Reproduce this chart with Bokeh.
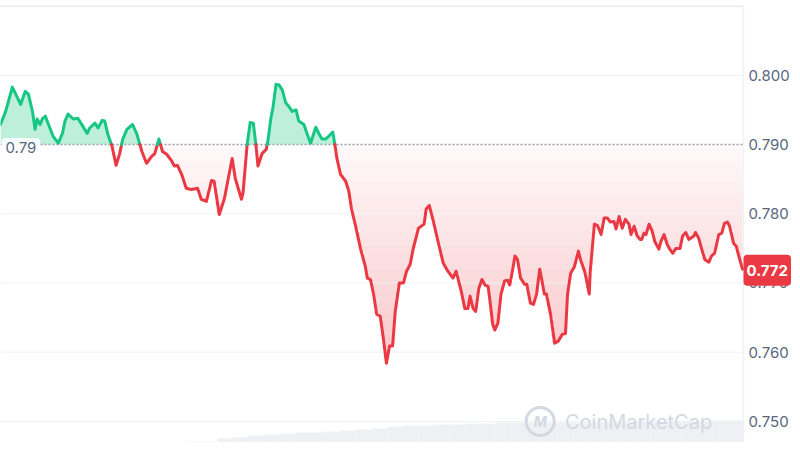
import numpy as np
from bokeh.plotting import figure
from bokeh.models import Range1d, Label
from bokeh.core.properties import value
from bokeh.embed import file_html
from bokeh.resources import INLINE

# ---- data (minutes since start of the 24h window, price in USD) ----
times = [0, 10, 23, 39, 48, 54, 62, 67, 71, 77, 81, 87, 93, 102, 112, 120, 125, 131, 141, 150,
         160, 168, 173, 183, 189, 197, 202, 208, 216, 224, 231, 237, 245, 256, 264, 274, 283, 293, 299, 307,
         314, 322, 332, 337, 343, 351, 360, 370, 382, 389, 399, 409, 414, 424, 434, 443, 449, 455, 467, 470,
         478, 484, 490, 495, 499, 507, 515, 519, 524, 528, 534, 540, 546, 553, 559, 565, 573, 578, 588, 594,
         601, 611, 617, 623, 630, 636, 644, 648, 652, 659, 669, 675, 680, 688, 698, 707, 711, 717, 723, 729,
         736, 742, 748, 754, 760, 765, 773, 781, 787, 794, 800, 810, 821, 825, 831, 839, 848, 858, 867, 877,
         883, 893, 900, 906, 910, 916, 921, 927, 933, 939, 945, 948, 954, 958, 964, 970, 977, 983, 987, 993,
         997, 1002, 1008, 1016, 1020, 1027, 1033, 1039, 1045, 1049, 1054, 1058, 1066, 1074, 1081, 1089, 1095, 1099, 1105, 1112,
         1120, 1124, 1132, 1135, 1141, 1143, 1151, 1157, 1164, 1170, 1176, 1182, 1189, 1193, 1199, 1205, 1211, 1218, 1222, 1228,
         1234, 1240, 1243, 1247, 1251, 1257, 1263, 1268, 1276, 1280, 1286, 1292, 1297, 1303, 1309, 1317, 1322, 1328, 1334, 1344,
         1347, 1353, 1359, 1365, 1373, 1378, 1384, 1392, 1398, 1403, 1409, 1413, 1421, 1426, 1432, 1438]
prices = [0.7929, 0.7948, 0.7983, 0.7958, 0.7977, 0.7973, 0.7948, 0.7922, 0.7937, 0.7929, 0.7937, 0.7941, 0.7929, 0.7912, 0.7902, 0.7916, 0.7934, 0.7944, 0.7937, 0.7938,
          0.7926, 0.7916, 0.7924, 0.7931, 0.7924, 0.7935, 0.7934, 0.7915, 0.7898, 0.7870, 0.7887, 0.7908, 0.7922, 0.7929, 0.7916, 0.7890, 0.7873, 0.7883, 0.7887, 0.7908,
          0.7890, 0.7886, 0.7876, 0.7869, 0.7870, 0.7857, 0.7837, 0.7835, 0.7837, 0.7821, 0.7818, 0.7848, 0.7847, 0.7799, 0.7822, 0.7857, 0.7880, 0.7851, 0.7821, 0.7830,
          0.7900, 0.7932, 0.7931, 0.7900, 0.7869, 0.7887, 0.7893, 0.7909, 0.7938, 0.7953, 0.7987, 0.7986, 0.7979, 0.7960, 0.7955, 0.7948, 0.7950, 0.7934, 0.7929, 0.7916,
          0.7902, 0.7925, 0.7916, 0.7908, 0.7908, 0.7912, 0.7918, 0.7900, 0.7880, 0.7857, 0.7847, 0.7833, 0.7808, 0.7783, 0.7749, 0.7724, 0.7707, 0.7705, 0.7684, 0.7655,
          0.7652, 0.7620, 0.7584, 0.7609, 0.7609, 0.7659, 0.7700, 0.7700, 0.7717, 0.7727, 0.7750, 0.7779, 0.7785, 0.7807, 0.7812, 0.7789, 0.7760, 0.7729, 0.7717, 0.7707,
          0.7717, 0.7688, 0.7663, 0.7663, 0.7681, 0.7663, 0.7659, 0.7692, 0.7705, 0.7697, 0.7695, 0.7678, 0.7640, 0.7632, 0.7642, 0.7684, 0.7703, 0.7704, 0.7697, 0.7721,
          0.7739, 0.7734, 0.7707, 0.7698, 0.7698, 0.7671, 0.7669, 0.7684, 0.7720, 0.7705, 0.7684, 0.7684, 0.7655, 0.7613, 0.7616, 0.7626, 0.7627, 0.7684, 0.7714, 0.7723,
          0.7746, 0.7734, 0.7717, 0.7707, 0.7684, 0.7717, 0.7785, 0.7783, 0.7770, 0.7794, 0.7794, 0.7788, 0.7789, 0.7778, 0.7796, 0.7779, 0.7792, 0.7785, 0.7770, 0.7782,
          0.7768, 0.7763, 0.7763, 0.7772, 0.7770, 0.7785, 0.7775, 0.7760, 0.7749, 0.7760, 0.7770, 0.7756, 0.7749, 0.7743, 0.7750, 0.7750, 0.7768, 0.7773, 0.7763, 0.7768,
          0.7773, 0.7765, 0.7749, 0.7734, 0.7730, 0.7739, 0.7743, 0.7770, 0.7772, 0.7786, 0.7788, 0.7782, 0.7757, 0.7753, 0.7736, 0.7720]
open_price = 0.79
last_price = 0.772
window_start, window_end = 0, 1440          # minutes covered by the chart
axis_ticks = [0.75, 0.76, 0.77, 0.78, 0.79, 0.80]
axis_labels = ["0.750", "0.760", "0.770", "0.780", "0.790", "0.800"]
grid_ticks = [0.75, 0.76, 0.77, 0.78, 0.80]
top_line = 0.81
# volume (relative units) per 30-minute bucket
vol_times = list(range(15, 1440, 30))
volumes = [0, 0, 0, 0, 0, 0, 0, 0, 0, 0, 0, 0, 1, 1, 4, 5, 7, 8, 9, 10, 10, 11, 12, 13,
           14, 16, 17, 17, 18, 18, 19, 19, 20, 20, 20, 20, 20, 20, 20, 20, 20, 21, 21, 21, 21, 21, 22, 22]

GREEN = "#16c784"
RED = "#ea3943"
GREY_TXT = "#58667e"
GRID = "#eff2f5"
FONT = "Inter"

# ---- insert baseline crossings so that colours / fills split exactly ----
ax, ay = [times[0]], [prices[0]]
for i in range(1, len(times)):
    d0, d1 = prices[i - 1] - open_price, prices[i] - open_price
    if d0 * d1 < 0:
        f = d0 / (d0 - d1)
        ax.append(times[i - 1] + f * (times[i] - times[i - 1]))
        ay.append(open_price)
    ax.append(times[i])
    ay.append(prices[i])
ax = np.array(ax)
ay = np.array(ay)

W, H = 792, 442
PLOT_W = 743  # pixels used by the price area; the rest holds the price scale
x_end = window_end * W / PLOT_W
y_lo, y_hi = 0.74695, 0.81082
p = figure(width=W, height=H, output_backend="svg", toolbar_location=None,
           x_range=Range1d(window_start, x_end), y_range=Range1d(y_lo, y_hi),
           x_axis_location=None, y_axis_location=None,
           min_border_left=0, min_border_right=0, min_border_top=0, min_border_bottom=0)
p.outline_line_color = None
p.background_fill_color = "white"
p.border_fill_color = "white"
p.grid.visible = False

# volume
p.extra_y_ranges = {"vol": Range1d(0, H)}
vb = p.vbar(x=vol_times, top=volumes, width=30, y_range_name="vol",
            fill_color="#eef0f3", line_color=None)
vb.level = "image"

# green fill
gf = p.varea(x=ax, y1=np.full_like(ay, open_price), y2=np.maximum(ay, open_price),
             fill_color=GREEN, fill_alpha=0.28)
gf.level = "image"

# red gradient fill (horizontal strips between baseline and the line)
lows = np.minimum(ay, open_price)
n_strips = 30
levels = np.linspace(open_price, min(prices), n_strips + 1)
for k in range(n_strips):
    hi, lo = levels[k], levels[k + 1]
    alpha = 0.03 + 0.25 * (k + 0.5) / n_strips
    r = p.varea(x=ax, y1=np.clip(lows, lo, hi), y2=np.full_like(ay, hi),
                fill_color=RED, fill_alpha=alpha)
    r.level = "image"

# grid lines, frame lines, baseline
g = p.segment(x0=[window_start] * len(grid_ticks), x1=[window_end] * len(grid_ticks),
              y0=grid_ticks, y1=grid_ticks, line_color=GRID, line_width=1)
g.level = "underlay"
t = p.segment(x0=[window_start], x1=[window_end], y0=[top_line], y1=[top_line],
              line_color="#e9ebee", line_width=1.5)
t.level = "underlay"
v = p.segment(x0=[window_end], x1=[window_end], y0=[y_lo], y1=[top_line],
              line_color=GRID, line_width=1.5)
v.level = "underlay"
b = p.segment(x0=[window_start], x1=[window_end], y0=[open_price], y1=[open_price],
              line_color="#98a1b0", line_dash="2 2", line_width=1.5)
b.level = "underlay"

# coloured line segments
seg_x, seg_y, seg_c = [], [], []
cur_x, cur_y, cur_c = [ax[0]], [ay[0]], None
for i in range(1, len(ax)):
    mid = (ay[i - 1] + ay[i]) / 2
    c = GREEN if mid >= open_price else RED
    if cur_c is None:
        cur_c = c
    if c != cur_c:
        seg_x.append(cur_x); seg_y.append(cur_y); seg_c.append(cur_c)
        cur_x, cur_y, cur_c = [ax[i - 1]], [ay[i - 1]], c
    cur_x.append(ax[i]); cur_y.append(ay[i])
seg_x.append(cur_x); seg_y.append(cur_y); seg_c.append(cur_c)
p.multi_line(xs=seg_x, ys=seg_y, line_color=seg_c, line_width=3, line_join="round", line_cap="round")

# price scale on the right
p.text(x=[window_end] * len(axis_ticks), y=axis_ticks, text=axis_labels, x_offset=5,
       text_font=value(FONT), text_font_size="15px", text_color=GREY_TXT,
       text_baseline="middle", text_align="left")

# open price label
p.add_layout(Label(x=window_start, y=open_price, text="0.79", text_font=FONT, text_font_size="15px",
                   text_color=GREY_TXT, text_baseline="middle", text_align="left", x_offset=1, y_offset=-3,
                   background_fill_color="white", background_fill_alpha=0.85,
                   border_radius=4, padding=4))

# last price label
p.add_layout(Label(x=window_end, y=last_price, text="0.772", text_font=FONT, text_font_size="15px",
                   text_font_style="bold", text_color="white", text_baseline="middle", text_align="left",
                   x_offset=0, y_offset=-1, background_fill_color=RED, border_radius=4,
                   padding=dict(left=3, right=3, top=10, bottom=10)))

# watermark
WM = "#d3d9e2"
p.scatter(x=[1046], y=[0.7500], size=28, marker="circle", fill_color=None, line_color=WM, line_width=3)
p.add_layout(Label(x=1046, y=0.7500, text="M", text_font=FONT, text_font_size="14px", text_font_style="bold italic",
                   text_color=WM, text_align="center", text_baseline="middle"))
p.add_layout(Label(x=1094, y=0.7499, text="CoinMarketCap", text_font=FONT, text_font_size="20px",
                   text_color=WM, text_align="left", text_baseline="middle"))

open("out.html", "w").write(file_html(p, INLINE))
